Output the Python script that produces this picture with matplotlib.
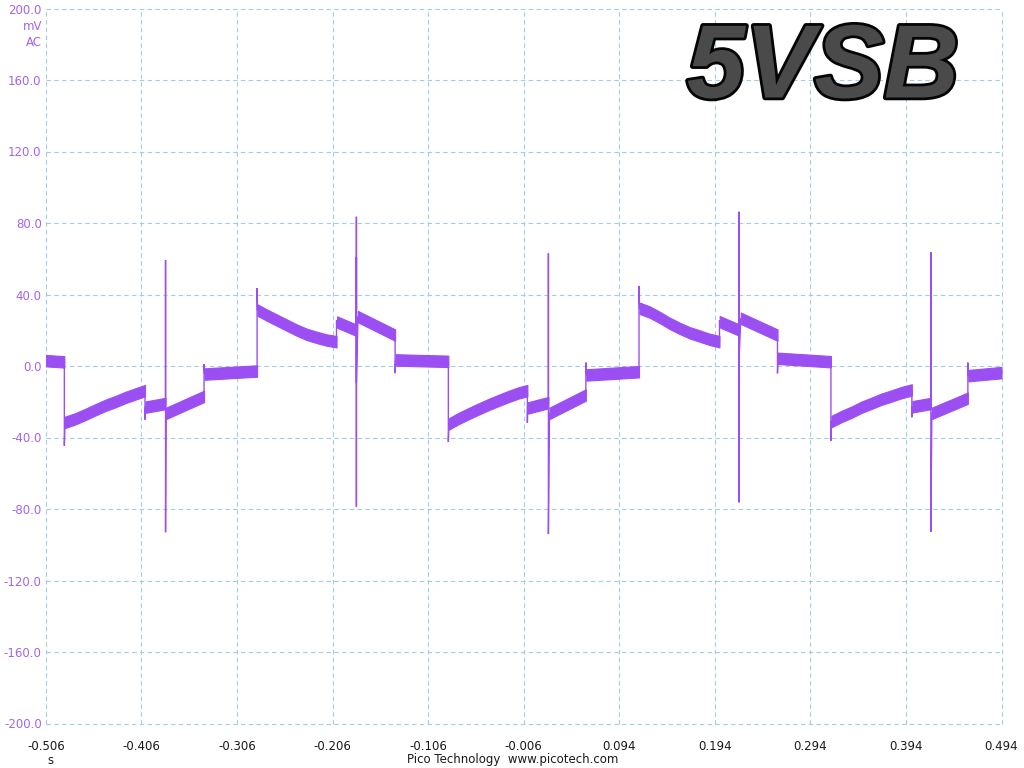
import matplotlib
matplotlib.use("Agg")
import matplotlib.pyplot as plt
import matplotlib.patheffects as pe

plt.rcParams['axes.unicode_minus'] = False
plt.rcParams['font.family'] = ['DejaVu Sans']

# ---------------- data ----------------
# times (s) and centre values (mV) of each noisy band segment, in order
SEG_T = [
    [-0.5060, -0.4866],
    [-0.4859, -0.4754, -0.4650, -0.4545, -0.4440, -0.4335, -0.4231, -0.4126, -0.4022],
    [-0.4017, -0.3807],
    [-0.3802, -0.3404],
    [-0.3399, -0.2849],
    [-0.2845, -0.2748, -0.2643, -0.2539, -0.2434, -0.2329, -0.2225, -0.2120, -0.2018],
    [-0.2012, -0.1810],
    [-0.1793, -0.1405],
    [-0.1400, -0.0848],
    [-0.0842, -0.0738, -0.0633, -0.0528, -0.0424, -0.0319, -0.0214, -0.0110, -0.0021],
    [-0.0019, 0.0199],
    [0.0210, 0.0591],
    [0.0596, 0.1147],
    [0.1153, 0.1258, 0.1363, 0.1467, 0.1572, 0.1677, 0.1781, 0.1886, 0.1989],
    [0.1991, 0.2195],
    [0.2212, 0.2596],
    [0.2601, 0.3155],
    [0.3160, 0.3264, 0.3369, 0.3474, 0.3578, 0.3683, 0.3788, 0.3892, 0.4002],
    [0.4007, 0.4201],
    [0.4211, 0.4588],
    [0.4593, 0.4940],
]
SEG_V = [
    [3.0, 2.3],
    [-31.5, -29.6, -27.2, -24.6, -22.1, -20.0, -17.7, -15.7, -13.8],
    [-23.0, -21.0],
    [-26.5, -17.0],
    [-4.5, -2.8],
    [31.3, 28.5, 25.7, 22.9, 20.1, 17.7, 16.0, 14.5, 13.6],
    [24.6, 20.0],
    [27.6, 17.3],
    [3.4, 2.6],
    [-32.4, -29.3, -26.6, -24.0, -21.5, -19.2, -17.0, -15.0, -13.8],
    [-23.5, -20.5],
    [-26.5, -16.2],
    [-5.0, -3.2],
    [32.3, 30.2, 27.2, 23.9, 21.1, 18.6, 16.8, 14.9, 13.6],
    [24.8, 20.1],
    [26.7, 17.3],
    [4.3, 2.4],
    [-31.1, -28.3, -25.9, -23.1, -20.9, -18.6, -16.8, -14.9, -13.4],
    [-22.8, -21.0],
    [-26.5, -18.0],
    [-5.4, -3.7],
]
# excursions (spikes / overshoots, mV) at the end of each segment
EXCURSIONS = [
    [-44.6],
    [-30.0],
    [59.3, -93.0],
    [1.0],
    [43.6],
    [25.5],
    [83.5, -78.7, 61.0, -9.7],
    [-4.0],
    [-42.5],
    [-31.7],
    [63.0, -94.0],
    [1.9],
    [44.8],
    [25.5],
    [86.3, -76.3, 45.3, 5.0],
    [-4.1],
    [-41.8],
    [-28.7],
    [63.6, -92.7],
    [1.9],
    [],
]
BAND_HALF = 3.2  # half thickness of the noise band, mV

X_TICKS = [-0.506, -0.406, -0.306, -0.206, -0.106, -0.006, 0.094, 0.194, 0.294, 0.394, 0.494]
Y_TICKS = [-200.0, -160.0, -120.0, -80.0, -40.0, 0.0, 40.0, 80.0, 120.0, 160.0, 200.0]

TRACE = '#9b4ff2'
LABEL = '#a064ee'
GRID = '#a2cce0'

# ---------------- figure ----------------
fig = plt.figure(figsize=(10.24, 7.68), dpi=100)
ax = fig.add_axes([45.8 / 1024, 44.5 / 768, (1001.5 - 45.8) / 1024, (759.5 - 44.5) / 768])

# thin connecting trace incl. steps and spikes
tt, vv = [], []
for ts, vs, ex in zip(SEG_T, SEG_V, EXCURSIONS):
    tt.extend(ts)
    vv.extend(vs)
    for e in ex:
        tt.append(ts[-1])
        vv.append(e)
ax.plot(tt, vv, color=TRACE, lw=1.0, solid_joinstyle='miter', zorder=3)

# noisy bands
for ts, vs in zip(SEG_T, SEG_V):
    lo = [v - BAND_HALF for v in vs]
    hi = [v + BAND_HALF for v in vs]
    ax.fill_between(ts, lo, hi, color=TRACE, lw=0.8, edgecolor=TRACE, zorder=3)

ax.set_xlim(X_TICKS[0], X_TICKS[-1])
ax.set_ylim(Y_TICKS[0], Y_TICKS[-1])
ax.set_xticks(X_TICKS)
ax.set_xticklabels(['%.3f' % x for x in X_TICKS])
ax.set_yticks(Y_TICKS)
ax.set_yticklabels(['%.1f' % y for y in Y_TICKS])
ax.tick_params(axis='both', length=0, labelsize=8.5)
ax.tick_params(axis='x', pad=12, labelcolor='#1a1a1a')
ax.tick_params(axis='y', pad=3, labelcolor=LABEL)
for s in ax.spines.values():
    s.set_visible(False)
ax.grid(True, color=GRID, lw=0.8, linestyle=(0, (4, 3)))
for gl in ax.get_xgridlines() + ax.get_ygridlines():
    gl.set_clip_on(False)
ax.set_axisbelow(True)

# unit labels
fig.text(42 / 1024, 1 - 26 / 768, 'mV', color=LABEL, fontsize=8.5, ha='right', va='center')
fig.text(42 / 1024, 1 - 42 / 768, 'AC', color=LABEL, fontsize=8.5, ha='right', va='center')
fig.text(50 / 1024, 1 - 760 / 768, 's', color='#1a1a1a', fontsize=8.5, ha='center', va='center')
fig.text(513 / 1024, 1 - 760 / 768, 'Pico Technology  www.picotech.com', color='#1a1a1a',
         fontsize=8.5, ha='center', va='center')

# title
fig.text(823 / 1024, 1 - 71 / 768, '5VSB', fontsize=75, fontweight='bold', fontstyle='italic',
         family='Liberation Sans', color='#4a4a4a', ha='center', va='center',
         path_effects=[pe.Stroke(linewidth=4, foreground='#050505'),
                       pe.Normal()])

fig.savefig('out.png', dpi=100)
